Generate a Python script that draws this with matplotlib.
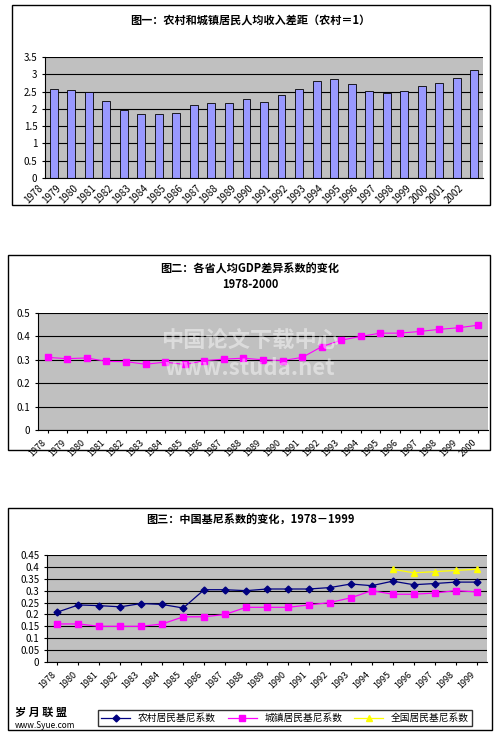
import matplotlib
matplotlib.use("Agg")
import matplotlib.pyplot as plt
from matplotlib.patches import Rectangle

plt.rcParams['font.family'] = ['Noto Sans CJK SC', 'DejaVu Sans']

years1 = [str(y) for y in range(1978, 2003)]
ratio = [2.57,2.54,2.49,2.24,1.98,1.84,1.86,1.89,2.10,2.16,2.16,2.28,2.19,2.40,2.57,2.80,2.86,2.71,2.51,2.47,2.51,2.65,2.76,2.89,3.11]

years2 = [str(y) for y in range(1978, 2001)]
gdp_cv = [.31,.305,.308,.293,.292,.281,.29,.28,.296,.303,.307,.30,.297,.31,.356,.384,.40,.414,.414,.421,.43,.437,.448]

years3 = ['1978'] + [str(y) for y in range(1980, 2000)]
rural = [.21,.24,.237,.232,.246,.242,.227,.304,.304,.30,.307,.307,.307,.313,.328,.321,.34,.325,.33,.336,.336]
urban = [.16,.16,.15,.15,.15,.16,.19,.19,.20,.23,.23,.23,.24,.25,.27,.30,.285,.285,.29,.30,.295]
national = [None]*16 + [.39,.375,.38,.385,.39]

W, H = 501, 738
fig = plt.figure(figsize=(W/100, H/100), dpi=100)
fig.patch.set_facecolor('white')

def box(x0, y0, x1, y1):
    fig.add_artist(Rectangle((x0/W, 1-y1/H), (x1-x0)/W, (y1-y0)/H, transform=fig.transFigure,
                             fill=False, ec='black', lw=1))

def ax_at(x0, y0, x1, y1):
    a = fig.add_axes([x0/W, 1-y1/H, (x1-x0)/W, (y1-y0)/H])
    a.set_facecolor('#c0c0c0')
    a.grid(axis='y', color='black', lw=0.8)
    a.set_axisbelow(True)
    for s in ['top', 'right']:
        a.spines[s].set_visible(False)
    a.tick_params(labelsize=7, length=2)
    return a

def fmt(v):
    return ('%g' % v)

# Chart 1
box(12, 5, 490, 205)
fig.text(250/W, 1-20/H, '图一：农村和城镇居民人均收入差距（农村＝1）', ha='center', va='center', fontsize=8, fontweight='bold')
a1 = ax_at(45, 57, 483, 178)
x = range(len(years1))
a1.bar(x, ratio, width=0.45, color='#9999ff', edgecolor='black', lw=0.6)
a1.set_ylim(0, 3.5)
a1.set_yticks([0,0.5,1,1.5,2,2.5,3,3.5])
a1.set_yticklabels([fmt(v) for v in [0,0.5,1,1.5,2,2.5,3,3.5]])
a1.set_xlim(-0.5, len(years1)-0.5)
a1.set_xticks([i-0.5 for i in x])
a1.set_xticklabels(years1, rotation=45, ha='right', fontsize=7)
a1.tick_params(axis='x', length=0)

# Chart 2
box(8, 255, 490, 450)
fig.text(250/W, 1-269/H, '图二：各省人均GDP差异系数的变化', ha='center', va='center', fontsize=8, fontweight='bold')
fig.text(250/W, 1-284/H, '1978-2000', ha='center', va='center', fontsize=8, fontweight='bold')
a2 = ax_at(38, 313, 488, 430)
x2 = range(len(years2))
a2.plot(x2, gdp_cv, color='#ff00ff', marker='s', ms=4, lw=0.8)
a2.set_ylim(0, 0.5)
a2.set_yticks([0,.1,.2,.3,.4,.5])
a2.set_yticklabels([fmt(v) for v in [0,.1,.2,.3,.4,.5]])
a2.set_xlim(-0.5, len(years2)-0.5)
a2.set_xticks(list(x2))
a2.set_xticklabels(years2, rotation=45, ha='right', fontsize=6.5)
fig.text(250/W, 1-355/H, '中国论文下载中心\nwww.studa.net', ha='center', va='center', fontsize=16,
         color='white', alpha=0.45, fontweight='bold')

# Chart 3
box(8, 508, 492, 730)
fig.text(250/W, 1-520/H, '图三：中国基尼系数的变化，1978－1999', ha='center', va='center', fontsize=8, fontweight='bold')
a3 = ax_at(47, 555, 487, 662)
x3 = list(range(len(years3)))
a3.plot(x3, rural, color='#000080', marker='D', ms=3.5, lw=0.9, label='农村居民基尼系数')
a3.plot(x3, urban, color='#ff00ff', marker='s', ms=4, lw=0.9, label='城镇居民基尼系数')
nx = [i for i, v in zip(x3, national) if v is not None]
nv = [v for v in national if v is not None]
a3.plot(nx, nv, color='#ffff00', marker='^', ms=4.5, lw=0.9, label='全国居民基尼系数')
a3.set_ylim(0, 0.45)
ticks3 = [0,.05,.1,.15,.2,.25,.3,.35,.4,.45]
a3.set_yticks(ticks3)
a3.set_yticklabels([fmt(v) for v in ticks3])
a3.set_xlim(-0.5, len(years3)-0.5)
a3.set_xticks(x3)
a3.set_xticklabels(years3, rotation=45, ha='right', fontsize=6.5)
fig.legend(loc='center', bbox_to_anchor=(285/W, 1-718/H), ncol=3, fontsize=7, frameon=True,
           fancybox=False, edgecolor='black', handlelength=3, columnspacing=1.2, borderpad=0.3)
fig.text(15/W, 1-712/H, '岁 月 联 盟', fontsize=8, fontweight='bold', va='center')
fig.text(15/W, 1-726/H, 'www.Syue.com', fontsize=6, va='center')

fig.savefig('out.png', dpi=100)
